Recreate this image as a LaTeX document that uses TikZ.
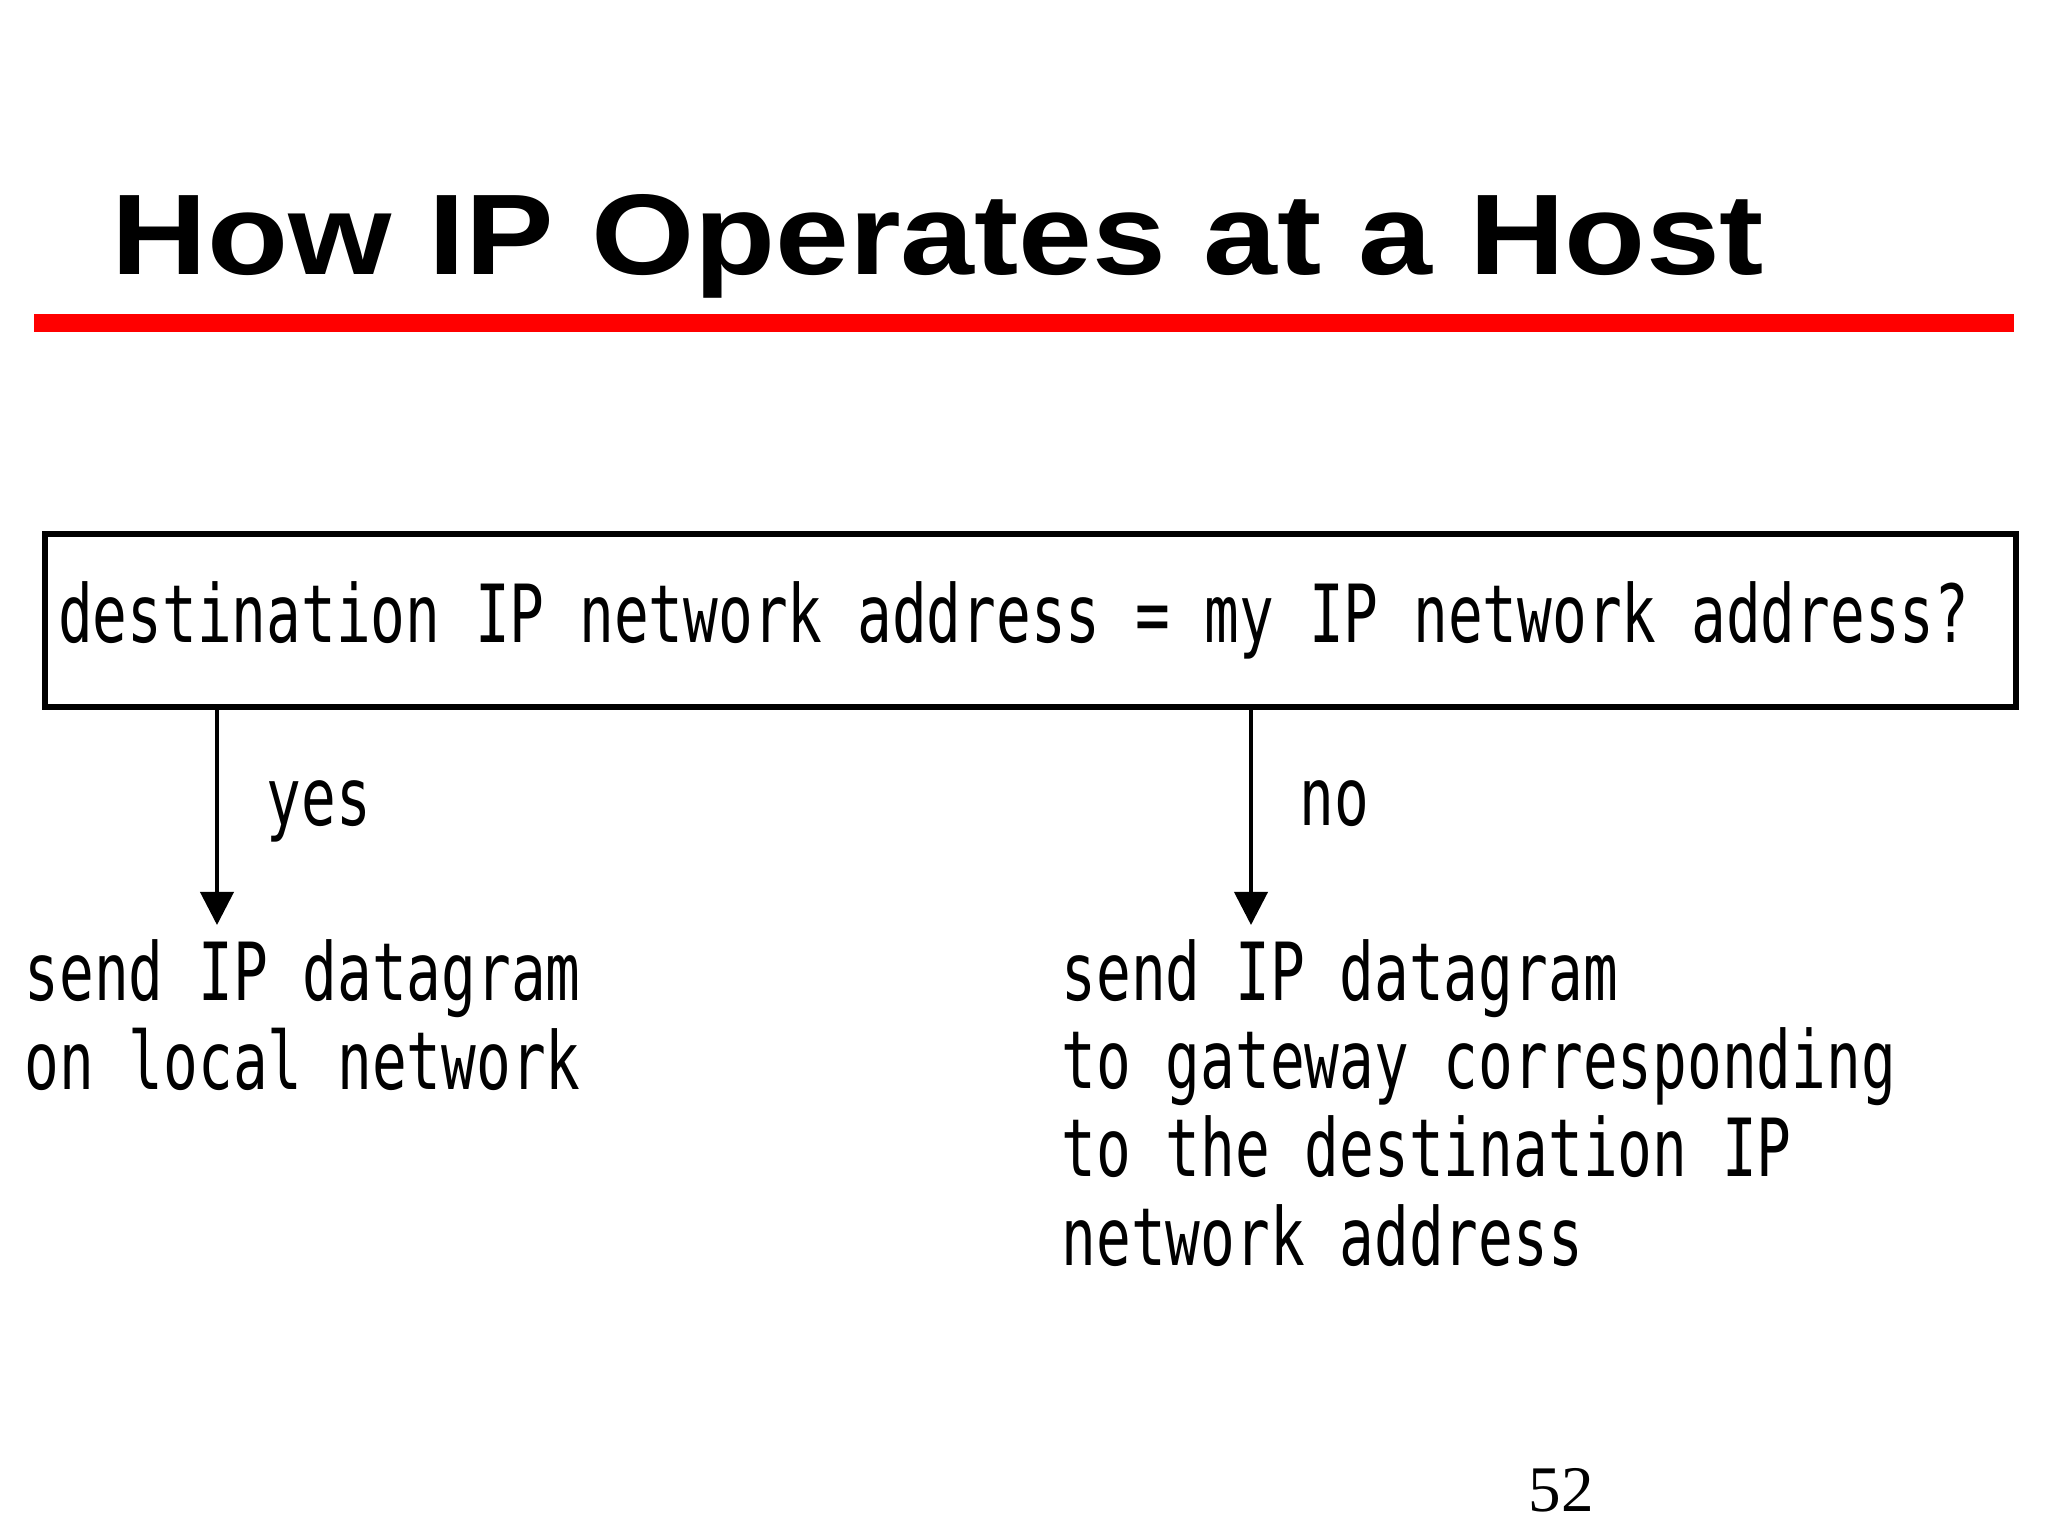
\documentclass[tikz,border=0pt]{standalone}
\usepackage{fontspec}
\usepackage{tikz}
\usetikzlibrary{
    arrows.meta,
    positioning
}
\newfontfamily\titlefont[FakeStretch=1.158]{Liberation Sans}
\newfontfamily\dgmfont[FakeStretch=0.72]{DejaVu Sans Mono}
\newfontfamily\pagefont{Liberation Serif}
\newcommand{\dgmtext}{\dgmfont\fontsize{22.8pt}{25.1pt}\selectfont}

\begin{document}
\begin{tikzpicture}[x=0.01cm, y=-0.01cm,
    >={Triangle[length=9.4pt, width=9.4pt]},
    qbox/.style={draw, line width=1.7pt, outer sep=0pt, anchor=north west, inner xsep=3.4pt, inner ysep=0pt,
        minimum width=19.7cm, minimum height=1.73cm, text width=19.44cm, align=left, font=\dgmtext,
        execute at begin node={\spaceskip=0pt\relax}},
    txt/.style={inner sep=0pt, anchor=base west, align=left, font=\dgmtext},
    flow/.style={->, line width=1.1pt}]
    \useasboundingbox (0,0) rectangle (2048,1536);

    \node[anchor=base west, inner sep=0pt, font=\titlefont\bfseries\fontsize{32.6pt}{39pt}\selectfont]
        (title) at (111, 274) {How IP Operates at a Host};
    \draw[red, line width=5.1pt] (34, 323) -- (2014, 323);

    \node[qbox] (q) at (45, 534) {destination IP network address = my IP network address?};

    \coordinate (yesend) at (217, 925);
    \coordinate (noend) at (1251, 925);
    \draw[flow] (q.south -| yesend) -- (yesend);
    \draw[flow] (q.south -| noend) -- (noend);

    \node[txt] (yes) at (266, 825) {yes};
    \node[txt] (no) at (1299, 825) {no};

    % base of a multi-line node is its last line
    \node[txt] (local) at (24, 1089) {send IP datagram\\on local network};
    \node[txt] (gw) at (1061, 1265) {send IP datagram\\to gateway corresponding\\to the destination IP\\network address};

    \node[anchor=base west, inner sep=0pt, font=\pagefont\fontsize{18.5pt}{22pt}\selectfont]
        (pagenum) at (1528, 1511) {52};
\end{tikzpicture}
\end{document}
